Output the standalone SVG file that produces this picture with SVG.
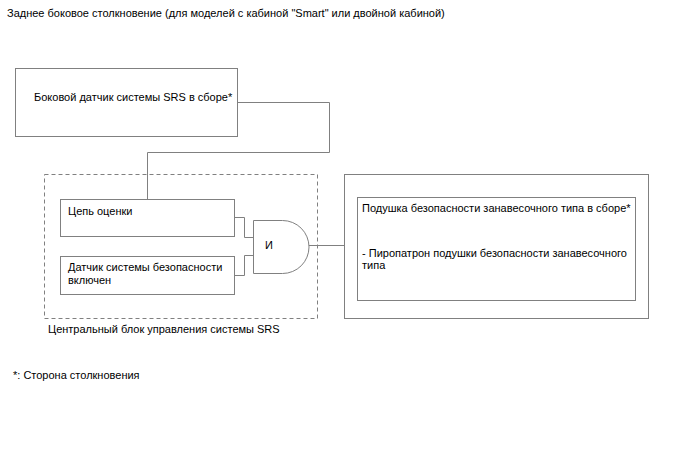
<svg xmlns="http://www.w3.org/2000/svg" width="688" height="463" viewBox="0 0 688 463">
<style>
text{font-family:"Liberation Sans",Arial,sans-serif;font-size:11px;fill:#000}
.box{fill:#fff;stroke:#808080;stroke-width:1}
.dash{fill:none;stroke:#808080;stroke-width:1;stroke-dasharray:4,3}
.ln{fill:none;stroke:#808080;stroke-width:1}
</style>
<rect width="688" height="463" fill="#fff"/>
<text x="7" y="17">Заднее боковое столкновение (для моделей с кабиной "Smart" или двойной кабиной)</text>
<g id="ecu">
<rect class="dash" x="44.5" y="174.5" width="273" height="144"/>
<text x="48" y="333">Центральный блок управления системы SRS</text>
</g>
<g id="connectors">
<polyline class="ln" points="237,102.5 329.5,102.5 329.5,152.5 147.5,152.5 147.5,199"/>
<polyline class="ln" points="234,217.5 244.5,217.5 244.5,237.5 253,237.5"/>
<polyline class="ln" points="234,275.5 244.5,275.5 244.5,255.5 253,255.5"/>
<line class="ln" x1="309" y1="245.5" x2="344" y2="245.5"/>
</g>
<g id="side-sensor">
<rect class="box" x="15.5" y="68.5" width="222" height="68"/>
<text x="34" y="101">Боковой датчик системы SRS в сборе*</text>
</g>
<g id="eval">
<rect class="box" x="60.5" y="199.5" width="174" height="37"/>
<text x="68" y="215">Цепь оценки</text>
</g>
<g id="safing">
<rect class="box" x="60.5" y="256.5" width="174" height="38"/>
<text x="68" y="271">Датчик системы безопасности</text>
<text x="68" y="284">включен</text>
</g>
<g id="and-gate">
<path class="box" d="M253.5,220.5 H282.5 A26.5,26.5 0 0 1 282.5,273.5 H253.5 Z"/>
<text x="265" y="249">И</text>
</g>
<g id="curtain">
<rect class="box" x="344.5" y="174.5" width="304" height="144"/>
<rect class="box" x="357.5" y="197.5" width="278" height="103"/>
<text x="362" y="212">Подушка безопасности занавесочного типа в сборе*</text>
<text x="362" y="257">- Пиропатрон подушки безопасности занавесочного</text>
<text x="362" y="269">типа</text>
</g>
<text x="13" y="379">*: Сторона столкновения</text>
</svg>
